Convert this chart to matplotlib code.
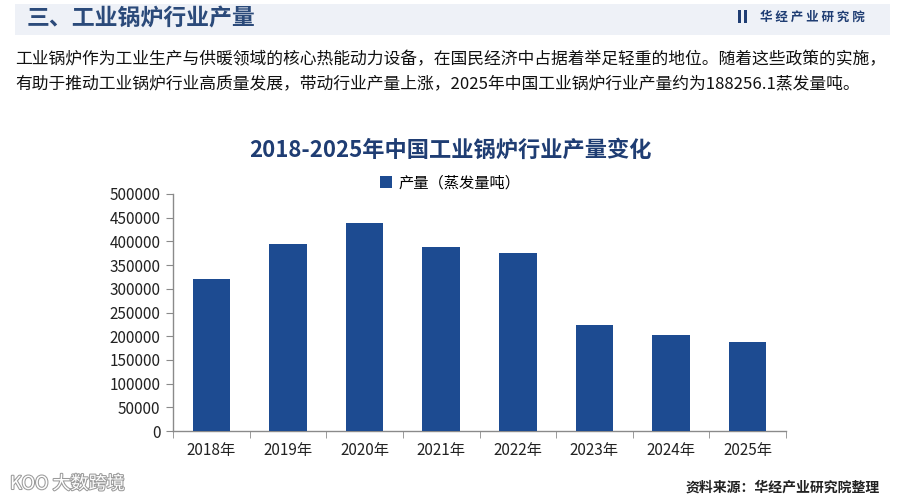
import matplotlib.pyplot as plt
import matplotlib.patheffects as pe
from matplotlib.patches import Rectangle
import numpy as np

plt.rcParams['font.family'] = ['Noto Sans CJK SC', 'DejaVu Sans']

years = ['2018年', '2019年', '2020年', '2021年', '2022年', '2023年', '2024年', '2025年']
output = [320000, 394000, 438000, 388000, 375000, 224000, 202500, 188256.1]
yticks = [0, 50000, 100000, 150000, 200000, 250000, 300000, 350000, 400000, 450000, 500000]

barColor = '#1d4b91'
titleColor = '#1f3d73'
axisColor = '#8a8a8a'

fig = plt.figure(figsize=(9, 4.98), dpi=100)
fig.patch.set_facecolor('white')

# header band
fig.patches.append(Rectangle((15/900, 1-35/498), 875/900, 31/498, transform=fig.transFigure,
                             facecolor='#eef1f7', edgecolor='none', zorder=0))
fig.text(27/900, 1-18/498, '三、工业锅炉行业产量', fontsize=16.5, fontweight='bold',
         color='#2b4a7a', va='center', ha='left')
# logo
fig.patches.append(Rectangle((738/900, 1-23/498), 3/900, 13/498, transform=fig.transFigure,
                             facecolor='#1f3d73', edgecolor='none'))
fig.patches.append(Rectangle((744/900, 1-23/498), 3/900, 13/498, transform=fig.transFigure,
                             facecolor='#1f3d73', edgecolor='none'))
fig.text(760/900, 1-17/498, '华 经 产 业 研 究 院', fontsize=9, fontweight='bold',
         color='#1f3d73', va='center', ha='left')

# paragraph
fig.text(15/900, 1-60/498,
         '工业锅炉作为工业生产与供暖领域的核心热能动力设备，在国民经济中占据着举足轻重的地位。随着这些政策的实施，',
         fontsize=12.1, color='#111111', va='center', ha='left')
fig.text(15/900, 1-84/498,
         '有助于推动工业锅炉行业高质量发展，带动行业产量上涨，2025年中国工业锅炉行业产量约为188256.1蒸发量吨。',
         fontsize=12.1, color='#111111', va='center', ha='left')

# chart title and legend
fig.text(450/900, 1-150/498, '2018-2025年中国工业锅炉行业产量变化', fontsize=16,
         fontweight='bold', color=titleColor, va='center', ha='center')

ax = fig.add_axes([173/900, 1-431/498, 613/900, 237/498])
ax.set_facecolor('none')
x = np.arange(len(years))
bars = ax.bar(x, output, width=0.49, color=barColor, label='产量（蒸发量吨）', zorder=3)

ax.set_xlim(-0.5, len(years) - 0.5)
ax.set_ylim(0, 500000)
ax.set_yticks(yticks)
ax.set_yticklabels([str(v) for v in yticks], fontsize=11, color='#222222')
ax.set_xticks(x)
ax.set_xticklabels(years, fontsize=11, color='#222222')
ax.set_xticks(np.arange(-0.5, len(years)), minor=True)
ax.tick_params(axis='x', which='major', length=0, pad=8)
ax.tick_params(axis='x', which='minor', length=5, color=axisColor, direction='out')
ax.tick_params(axis='y', length=5, color=axisColor, direction='out', pad=4)
for s in ['top', 'right']:
    ax.spines[s].set_visible(False)
for s in ['left', 'bottom']:
    ax.spines[s].set_color(axisColor)
    ax.spines[s].set_linewidth(1)

fig.legend(handles=[bars], labels=['产量（蒸发量吨）'], loc='center',
           bbox_to_anchor=(450/900, 1-183/498), frameon=False, fontsize=11,
           handlelength=0.8, handleheight=0.8, handletextpad=0.4)

fig.text(880/900, 1-488/498, '资料来源：华经产业研究院整理', fontsize=10, fontweight='bold',
         color='#222222', va='center', ha='right')

# platform watermark
fig.text(10/900, 1-484/498, 'KOO 大数跨境', fontsize=13, color='white', va='center', ha='left',
         path_effects=[pe.withStroke(linewidth=1.5, foreground='#9a9a9a')])

fig.savefig('out.png', dpi=100, facecolor='white')
